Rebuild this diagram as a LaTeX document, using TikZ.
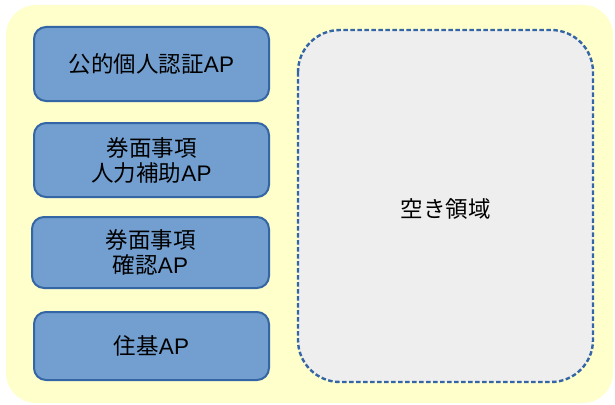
\documentclass[tikz,border=0pt]{standalone}
\usepackage{fontspec}
\setmainfont{Liberation Sans}
\newfontfamily\cjk{Noto Sans CJK JP}
\definecolor{bgyellow}{HTML}{FFFFCC}
\definecolor{apfill}{HTML}{729FCF}
\definecolor{apline}{HTML}{3465A4}
\definecolor{freefill}{HTML}{EEEEEE}
\begin{document}
\begin{tikzpicture}[x=1pt,y=-1pt,
  apbox/.style={draw=apline,fill=apfill,line width=2pt,rounded corners=12pt},
  aptext/.style={font=\fontsize{22.5}{25}\selectfont,align=center,text=black},
  freebox/.style={draw=apline,fill=freefill,line width=2.4pt,dash pattern=on 4.5pt off 2.5pt,rounded corners=42pt}]
\useasboundingbox (0,0) rectangle (615,404);
\fill[bgyellow,rounded corners=30pt] (6,5) rectangle (613,403);
\draw[apbox] (34,27) rectangle (269,101);
\draw[apbox] (34,123) rectangle (269,197);
\draw[apbox] (32,217) rectangle (269,288);
\draw[apbox] (34,312) rectangle (269,380);
\draw[freebox] (298,30) rectangle (593,382);
\node[aptext] (ap1) at (151.5,64) {{\cjk 公的個人認証}AP};
\node[aptext] (ap2) at (151.5,160) {{\cjk 券面事項}\\{\cjk 人力補助}AP};
\node[aptext] (ap3) at (150.5,252.5) {{\cjk 券面事項}\\{\cjk 確認}AP};
\node[aptext] (ap4) at (151.5,346) {{\cjk 住基}AP};
\node[aptext] (free) at (445.5,209) {{\cjk 空き領域}};
\end{tikzpicture}
\end{document}
